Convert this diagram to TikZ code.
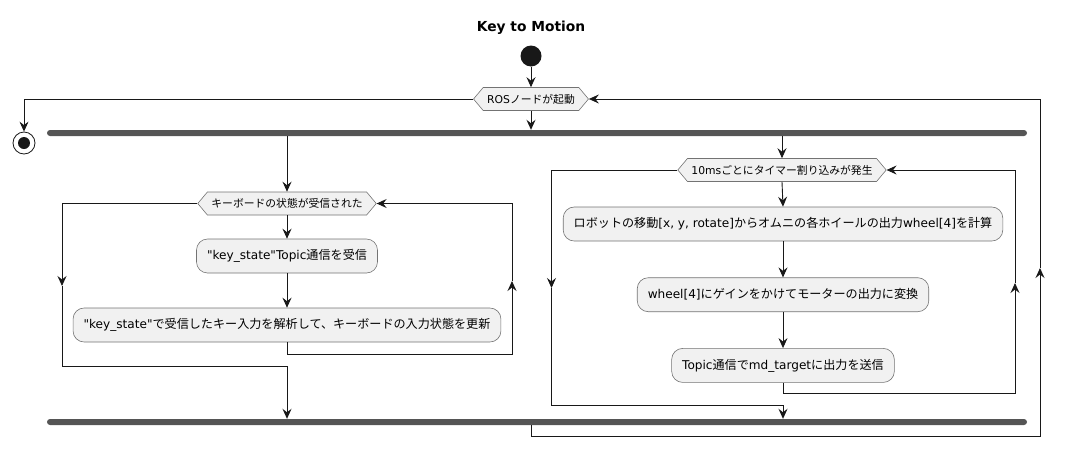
\documentclass[tikz,border=0pt]{standalone}
\usepackage{fontspec}
\setmainfont{Noto Sans CJK JP}
\newfontfamily\lat{DejaVu Sans}
\usetikzlibrary{arrows.meta,shapes.symbols}
\definecolor{boxfill}{HTML}{F1F1F1}
\definecolor{barcol}{HTML}{555555}
\definecolor{linecol}{HTML}{181818}
\tikzset{
  flow/.style={draw=linecol, line width=0.9pt},
  arr/.style={flow, -{Stealth[length=10pt, width=9pt, inset=3.5pt]}},
  act/.style={draw=black!55, fill=boxfill, rounded corners=11pt, line width=0.6pt,
    minimum height=34pt, inner xsep=10.5pt, font=\fontsize{12.1}{14}\selectfont},
  cond/.style={signal, signal to=east and west, signal pointer angle=100, draw=black!55,
    fill=boxfill, line width=0.6pt, minimum height=23pt, inner xsep=4pt, inner ysep=2pt,
    font=\fontsize{10.8}{12}\selectfont},
  bar/.style={fill=barcol, rounded corners=3pt, minimum width=980pt, minimum height=6pt, inner sep=0pt},
  startdot/.style={circle, fill=linecol, minimum size=21pt, inner sep=0pt},
  stopdot/.style={circle, draw=linecol, line width=0.8pt, fill=white, minimum size=22pt, inner sep=0pt,
    path picture={\fill[linecol] (path picture bounding box.center) circle (6pt);}},
}

\begin{document}
\begin{tikzpicture}[x=1pt, y=-1pt]
\useasboundingbox (0,0) rectangle (1065,458);

\node[font=\lat\bfseries\fontsize{13.8}{15}\selectfont] (title) at (531,28) {Key to Motion};
\node[startdot] (start) at (531,56) {};
\node[cond] (ros) at (531,99) {{\lat ROS}ノードが起動};
\node[stopdot] (stop) at (24,143) {};
\node[bar] (fork) at (537,133) {};
\node[bar] (join) at (537,422) {};

\node[cond] (ldec) at (287,203.5) {キーボードの状態が受信された};
\node[act] (lrecv) at (287,256) {{\lat "key\_state"Topic}通信を受信};
\node[act] (lparse) at (287,325) {{\lat "key\_state"}で受信したキー入力を解析して、キーボードの入力状態を更新};

\node[cond] (rdec) at (782,170) {{\lat 10ms}ごとにタイマー割り込みが発生};
\node[act] (rcalc) at (783,224) {ロボットの移動{\lat [x, y, rotate]}からオムニの各ホイールの出力{\lat wheel[4]}を計算};
\node[act] (rgain) at (783,294.7) {{\lat wheel[4]}にゲインをかけてモーターの出力に変換};
\node[act] (rsend) at (783,365.4) {{\lat Topic}通信で{\lat md\_target}に出力を送信};

\coordinate (outerB) at (1040,436);
\coordinate (outerM) at (1040,268);
\coordinate (lexitM) at (62,286);
\coordinate (lexitB) at (287,366);
\coordinate (lloopB) at (512,354);
\coordinate (lloopM) at (512,281);
\coordinate (rexitM) at (551.5,288);
\coordinate (rexitB) at (783,405);
\coordinate (rloopB) at (1015,393);
\coordinate (rloopM) at (1015,283);

\draw[arr] (start) -- (ros.north);
\draw[arr] (ros.west) -| (stop.north);
\draw[arr] (ros.south) -- (ros.south |- fork.north);
\draw[arr] (fork.south -| ldec.north) -- (ldec.north);
\draw[arr] (fork.south -| rdec.north) -- (rdec.north);

\draw[arr] (ldec.south) -- (lrecv.north);
\draw[arr] (lrecv.south) -- (lparse.north);
\draw[arr] (lparse.south) |- (lloopB) -- (lloopM);
\draw[arr] (lloopM) |- (ldec.east);
\draw[arr] (ldec.west) -| (lexitM);
\draw[arr] (lexitM) |- (lexitB) -- (lexitB |- join.north);

\draw[arr] (rdec.south) -- (rcalc.north);
\draw[arr] (rcalc.south) -- (rgain.north);
\draw[arr] (rgain.south) -- (rsend.north);
\draw[arr] (rsend.south) |- (rloopB) -- (rloopM);
\draw[arr] (rloopM) |- (rdec.east);
\draw[arr] (rdec.west) -| (rexitM);
\draw[arr] (rexitM) |- (rexitB) -- (rexitB |- join.north);

\draw[arr] (join.south -| ros.south) |- (outerB) -- (outerM);
\draw[arr] (outerM) |- (ros.east);
\end{tikzpicture}
\end{document}
